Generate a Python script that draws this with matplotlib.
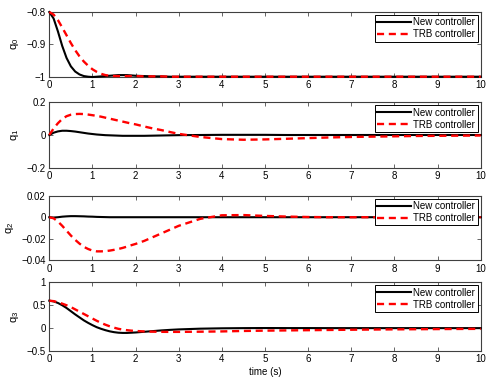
import matplotlib
matplotlib.use('Agg')
import matplotlib.pyplot as plt

# tiempo (s)
t = [0.0, 0.1, 0.2, 0.3, 0.4, 0.5, 0.6, 0.7, 0.8, 0.9, 1.0,
     1.1, 1.2, 1.3, 1.4, 1.5, 1.6, 1.7, 1.8, 1.9, 2.0,
     2.2, 2.4, 2.6, 2.8, 3.0,
     3.5, 4.0, 4.5, 5.0, 5.5, 6.0, 6.5, 7.0, 7.5, 8.0, 8.5, 9.0, 9.5, 10.0]

# q0
q0_new = [-0.8, -0.82, -0.86, -0.905, -0.942, -0.968, -0.984, -0.993, -0.998, -1.0, -1.001,
          -1.0, -0.999, -0.998, -0.997, -0.996, -0.995, -0.995, -0.995, -0.996, -0.997,
          -0.998, -0.999, -0.999, -1.0, -1.0,
          -1.0, -1.0, -1.0, -1.0, -1.0, -1.0, -1.0, -1.0, -1.0, -1.0, -1.0, -1.0, -1.0, -1.0]
q0_trb = [-0.8, -0.808, -0.825, -0.848, -0.872, -0.896, -0.918, -0.937, -0.953, -0.966, -0.977,
          -0.985, -0.991, -0.995, -0.997, -0.998, -0.998, -0.998, -0.998, -0.998, -0.998,
          -0.999, -0.999, -0.999, -1.0, -1.0,
          -1.0, -1.0, -1.0, -1.0, -1.0, -1.0, -1.0, -1.0, -1.0, -1.0, -1.0, -1.0, -1.0, -1.0]

# q1
q1_new = [0.0, 0.014, 0.022, 0.026, 0.026, 0.024, 0.021, 0.017, 0.013, 0.009, 0.006,
          0.003, 0.001, -0.001, -0.002, -0.003, -0.004, -0.005, -0.005, -0.005, -0.005,
          -0.005, -0.004, -0.003, -0.002, -0.001,
          0.0, 0.001, 0.001, 0.001, 0.0, 0.0, 0.0, 0.0, 0.0, 0.0, 0.0, 0.0, 0.0, 0.0]
q1_trb = [0.0, 0.04, 0.072, 0.098, 0.115, 0.124, 0.128, 0.129, 0.128, 0.125, 0.121,
          0.117, 0.112, 0.106, 0.1, 0.094, 0.088, 0.082, 0.076, 0.07, 0.065,
          0.052, 0.04, 0.03, 0.018, 0.007,
          -0.012, -0.025, -0.029, -0.027, -0.023, -0.019, -0.015, -0.012, -0.01, -0.008,
          -0.006, -0.005, -0.004, -0.003]

# q2
q2_new = [0.0, -0.0003, 0.0, 0.0005, 0.0008, 0.001, 0.001, 0.0009, 0.0008, 0.0006, 0.0005,
          0.0003, 0.0002, 0.0001, 0.0, 0.0, 0.0, 0.0, 0.0, 0.0, 0.0,
          0.0, 0.0, 0.0, 0.0, 0.0,
          0.0, 0.0, 0.0, 0.0, 0.0, 0.0, 0.0, 0.0, 0.0, 0.0, 0.0, 0.0, 0.0, 0.0]
q2_trb = [0.0, -0.001, -0.004, -0.008, -0.0125, -0.017, -0.021, -0.0245, -0.0275, -0.0295, -0.031,
          -0.0317, -0.0317, -0.0315, -0.031, -0.0303, -0.0295, -0.0285, -0.0273, -0.026, -0.0248,
          -0.022, -0.0185, -0.015, -0.0115, -0.008,
          -0.0015, 0.0018, 0.002, 0.0012, 0.0006, 0.0002, 0.0, 0.0, 0.0, 0.0, 0.0, 0.0, 0.0, 0.0]

# q3
q3_new = [0.6, 0.585, 0.55, 0.5, 0.44, 0.37, 0.3, 0.235, 0.17, 0.115, 0.065,
          0.02, -0.015, -0.045, -0.07, -0.088, -0.1, -0.105, -0.105, -0.1, -0.095,
          -0.08, -0.065, -0.05, -0.038, -0.028,
          -0.012, -0.004, 0.0, 0.002, 0.001, 0.001, 0.0, 0.0, 0.0, 0.0, 0.0, 0.0, 0.0, 0.0]
q3_trb = [0.6, 0.59, 0.565, 0.535, 0.5, 0.46, 0.41, 0.36, 0.31, 0.26, 0.21,
          0.16, 0.115, 0.075, 0.04, 0.01, -0.015, -0.032, -0.045, -0.055, -0.062,
          -0.072, -0.078, -0.081, -0.082, -0.082,
          -0.078, -0.072, -0.062, -0.055, -0.05, -0.045, -0.04, -0.035, -0.031, -0.027,
          -0.024, -0.021, -0.018, -0.016]

series = [(q0_new, q0_trb), (q1_new, q1_trb), (q2_new, q2_trb), (q3_new, q3_trb)]
ylabels = ['q$_0$', 'q$_1$', 'q$_2$', 'q$_3$']
ylims = [(-1, -0.8), (-0.2, 0.2), (-0.04, 0.02), (-0.5, 1)]
yticks = [[-1, -0.9, -0.8], [-0.2, 0, 0.2], [-0.04, -0.02, 0, 0.02], [-0.5, 0, 0.5, 1]]
yticklabels = [['\u22121', '\u22120.9', '\u22120.8'],
               ['\u22120.2', '0', '0.2'],
               ['\u22120.04', '\u22120.02', '0', '0.02'],
               ['\u22120.5', '0', '0.5', '1']]
xticks = [0, 1, 2, 3, 4, 5, 6, 7, 8, 9, 10]

plt.rcParams['font.family'] = ['Liberation Sans', 'DejaVu Sans']
plt.rcParams['mathtext.fontset'] = 'custom'
plt.rcParams['mathtext.rm'] = 'Liberation Sans'
plt.rcParams['mathtext.it'] = 'Liberation Sans'

fig = plt.figure(figsize=(4.91, 3.79), dpi=100)

# posiciones de los paneles [left, bottom, width, height]
posiciones = [[0.1004, 0.7976, 0.8786, 0.1707],
              [0.1004, 0.5575, 0.8786, 0.1726],
              [0.1004, 0.3132, 0.8786, 0.1705],
              [0.1004, 0.0739, 0.8786, 0.1810]]

for i in range(4):
    ax = fig.add_axes(posiciones[i])
    nuevo, trb = series[i]
    ax.plot(t, nuevo, color='black', lw=1.5, label='New controller', clip_on=False, zorder=3)
    ax.plot(t, trb, color='red', lw=1.7, ls=(0, (3, 2)), label='TRB controller',
            clip_on=False, zorder=4)
    ax.set_xlim(0, 10)
    ax.set_ylim(*ylims[i])
    ax.set_xticks(xticks)
    ax.set_yticks(yticks[i])
    ax.set_yticklabels(yticklabels[i])
    ax.tick_params(direction='in', top=True, right=True, labelsize=7, length=3,
                   width=0.6, color='0.3', pad=2.5)
    for s in ax.spines.values():
        s.set_linewidth(0.8)
        s.set_color('0.25')
    ax.set_ylabel(ylabels[i], fontsize=8, labelpad=4)
    leg = ax.legend(loc='upper right', fontsize=7, frameon=True, fancybox=False,
                    edgecolor='black', framealpha=1, borderpad=0.25, labelspacing=0.2,
                    handlelength=3.4, handletextpad=0.3, borderaxespad=0.3)
    leg.get_frame().set_linewidth(0.7)
    if i == 3:
        ax.set_xlabel('time (s)', fontsize=7, labelpad=2)

fig.savefig('out.png', dpi=100)
